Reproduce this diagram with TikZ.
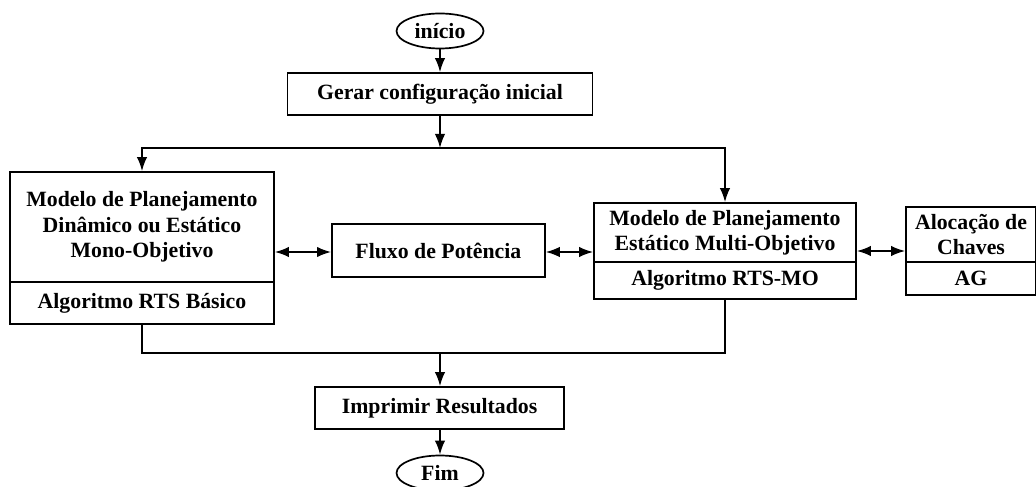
\documentclass[tikz,border=0pt]{standalone}
\usepackage{fontspec}
\setmainfont{Liberation Serif}
\usetikzlibrary{arrows.meta, shapes.geometric, calc}

\tikzset{
  blockbox/.style={draw, line width=1.2pt, rectangle, align=center, inner sep=0pt,
    font=\fontsize{15.5}{18}\selectfont\bfseries},
  endbox/.style={draw, line width=1.2pt, ellipse, inner sep=0pt,
    minimum width=2.175cm, minimum height=0.875cm, font=\fontsize{15.5}{18}\selectfont\bfseries},
  flow/.style={line width=1.2pt, -{Latex[length=3.5mm, width=2.6mm]}},
  both/.style={line width=1.2pt, {Latex[length=3.5mm, width=2.6mm]}-{Latex[length=3.5mm, width=2.6mm]}},
  wire/.style={line width=1.2pt}
}

\begin{document}
\begin{tikzpicture}

%% frame of the picture
\useasboundingbox (0,0) rectangle (25.9,12.15);

%% start, first step
\node[endbox] (inicio) at (11, 11.375) {início};
\node[blockbox, minimum width=7.625cm, minimum height=1.05cm] (gerar) at (11, 9.8) {Gerar configuração inicial};
\coordinate (split) at (11, 8.45);

%% mono-objective model (left)
\node[blockbox, minimum width=6.6cm, minimum height=2.75cm] (modMono) at (3.55, 6.475)
  {Modelo de Planejamento\\Dinâmico ou Estático\\Mono-Objetivo};
\node[blockbox, minimum width=6.6cm, minimum height=1.05cm] (algMono) at (3.55, 4.575) {Algoritmo RTS Básico};

%% power flow (middle)
\node[blockbox, minimum width=5.325cm, minimum height=1.325cm] (fluxo) at (10.96, 5.8875) {Fluxo de Potência};

%% multi-objective model (right)
\node[blockbox, minimum width=6.55cm, minimum height=1.475cm] (modMulti) at (18.125, 6.3375)
  {Modelo de Planejamento\\Estático Multi-Objetivo};
\node[blockbox, minimum width=6.55cm, minimum height=0.925cm] (algMulti) at (18.125, 5.1375) {Algoritmo RTS-MO};

%% switch allocation
\node[blockbox, minimum width=3.25cm, minimum height=1.375cm] (chaves) at (24.275, 6.2875) {Alocação de\\Chaves};
\node[blockbox, minimum width=3.25cm, minimum height=0.825cm] (ag) at (24.275, 5.1875) {AG};

%% end
\coordinate (join) at (11, 3.325);
\node[blockbox, minimum width=6.225cm, minimum height=1.05cm] (imprimir) at (10.99, 1.95) {Imprimir Resultados};
\node[endbox] (fim) at (11, 0.325) {Fim};

%% connectors
\draw[flow] (inicio.south) -- (inicio.south |- gerar.north);
\draw[flow] (gerar.south -| split) -- (split);
\draw[flow] (split) -| (modMono.north);
\draw[flow] (split) -| (modMulti.north);

\draw[both] (modMono.east |- 0,5.85) -- (fluxo.west |- 0,5.85);
\draw[both] (fluxo.east |- 0,5.85) -- (modMulti.west |- 0,5.85);
\draw[both] (modMulti.east |- 0,5.875) -- (chaves.west |- 0,5.875);

\draw[wire] (algMono.south) |- (join);
\draw[wire] (algMulti.south) |- (join);
\draw[flow] (join) -- (join |- imprimir.north);
\draw[flow] (imprimir.south -| fim) -- (fim.north);

\end{tikzpicture}
\end{document}
